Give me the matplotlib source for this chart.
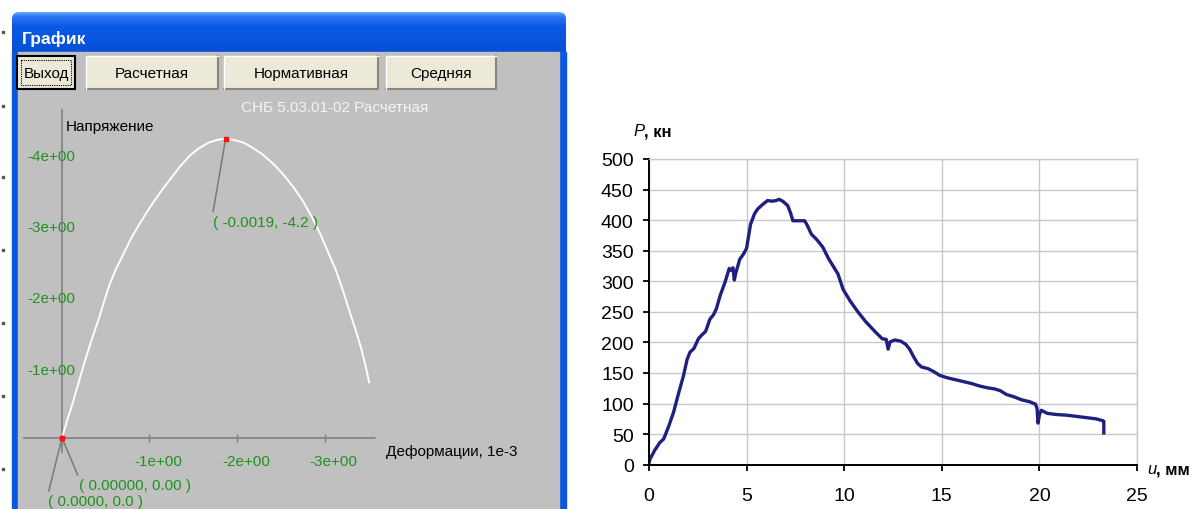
import numpy as np
import matplotlib
matplotlib.use("Agg")
import matplotlib.pyplot as plt
from matplotlib.patches import Rectangle, FancyBboxPatch
from matplotlib.colors import LinearSegmentedColormap

plt.rcParams['font.family'] = ['Liberation Sans', 'DejaVu Sans']

# ---- left (screenshot) chart: strain (1e-3) vs stress, both negative
strain = [0, -0.06, -0.125, -0.2, -0.27, -0.345, -0.42, -0.48, -0.54, -0.62,
          -0.71, -0.79, -0.875, -0.96, -1.04, -1.15, -1.25, -1.35, -1.46, -1.56,
          -1.67, -1.77, -1.87, -1.97, -2.08, -2.18, -2.29, -2.42, -2.54, -2.65,
          -2.75, -2.86, -2.96, -3.04, -3.125, -3.21, -3.29, -3.36, -3.42, -3.47,
          -3.51]
stress = [0, -0.25, -0.5, -0.82, -1.11, -1.40, -1.67, -1.91, -2.14, -2.38,
          -2.60, -2.80, -2.98, -3.15, -3.30, -3.49, -3.65, -3.81, -3.96, -4.06,
          -4.14, -4.18, -4.20, -4.18, -4.14, -4.07, -3.98, -3.84, -3.68, -3.51,
          -3.33, -3.09, -2.84, -2.61, -2.37, -2.07, -1.76, -1.50, -1.25, -1.01,
          -0.78]
strain_ticks = [-1, -2, -3]
stress_ticks = [-1, -2, -3, -4]
marked_x = [0, 0, -1.87]
marked_y = [0, 0, -4.2]
marked_labels = ['( 0.00000, 0.00 )', '( 0.0000, 0.0 )', '( -0.0019, -4.2 )']
buttons = ['Выход', 'Расчетная', 'Нормативная', 'Средняя']

# ---- right chart: load P (kN) vs displacement u (mm)
u_mm = [0.0, 0.05, 0.3, 0.55, 0.75, 1.0, 1.26, 1.5, 1.77, 1.95,
        2.1, 2.3, 2.53, 2.7, 2.9, 3.12, 3.3, 3.45, 3.64, 3.9,
        4.11, 4.2, 4.3, 4.37, 4.45, 4.65, 4.85, 5.0, 5.2, 5.4,
        5.56, 5.8, 6.07, 6.3, 6.5, 6.67, 6.85, 7.1, 7.25, 7.37,
        7.6, 7.97, 8.1, 8.32, 8.6, 8.9, 9.2, 9.45, 9.68, 9.94,
        10.3, 10.7, 11.1, 11.6, 11.95, 12.15, 12.25, 12.35, 12.6, 12.9,
        13.15, 13.35, 13.55, 13.75, 13.95, 14.3, 14.6, 14.9, 15.3, 15.7,
        16.1, 16.5, 16.9, 17.3, 17.7, 18.0, 18.3, 18.7, 19.1, 19.5,
        19.8, 19.88, 19.93, 20.0, 20.1, 20.4, 20.9, 21.4, 21.9, 22.4,
        22.9, 23.25, 23.3, 23.3]
p_kn = [3, 9, 24, 36, 42, 62, 86, 115, 146, 172,
        184, 190, 206, 212, 218, 238, 245, 255, 276, 299,
        321, 318, 322, 302, 314, 336, 345, 354, 393, 410,
        418, 425, 432, 431, 432, 434, 431, 424, 412, 399,
        399, 399, 392, 377, 368, 356, 337, 324, 312, 287,
        268, 250, 234, 217, 206, 205, 189, 201, 204, 202,
        197, 189, 177, 166, 160, 157, 152, 146, 142, 139,
        136, 133, 129, 126, 124, 121, 115, 111, 106, 103,
        99, 92, 68, 82, 89, 84, 82, 81, 79, 77,
        75, 72, 71, 52]
u_ticks = [0, 5, 10, 15, 20, 25]
p_ticks = list(range(0, 501, 50))

green = '#1f931f'

fig = plt.figure(figsize=(11.98, 5.10), dpi=100)

# ---------------- window chrome (pixel coords)
bg = fig.add_axes([0, 0, 1, 1])
bg.set_xlim(0, 1198)
bg.set_ylim(510, 0)
bg.axis('off')

cmap = LinearSegmentedColormap.from_list(
    'xp', [(0, '#6aa6ff'), (0.1, '#2f78f2'), (0.35, '#0a5ae6'), (1, '#0750d6')])
grad = np.linspace(0, 1, 60).reshape(-1, 1)
im = bg.imshow(grad, extent=(12, 566, 53, 13), aspect='auto', cmap=cmap, zorder=1)
clip = FancyBboxPatch((12, 13), 554, 60, boxstyle='round,pad=0,rounding_size=7',
                      transform=bg.transData, facecolor='none', edgecolor='none')
bg.add_patch(clip)
im.set_clip_path(clip)
bg.add_patch(Rectangle((12, 53), 6, 470, color='#0a58e2', zorder=1))
bg.add_patch(Rectangle((559, 53), 7, 470, color='#0a58e2', zorder=1))
bg.add_patch(Rectangle((18, 53), 541, 470, color='#c0c0c0', zorder=1))
bg.text(22, 39, 'График', color='white', fontsize=12.5, fontweight='bold',
        va='center', ha='left', zorder=3)

btn_x = [(17, 75), (86, 218), (224, 378), (386, 496)]
for (x0, x1), lab in zip(btn_x, buttons):
    bg.add_patch(Rectangle((x0, 57), x1 - x0, 33, facecolor='#ece9d8',
                           edgecolor='none', zorder=2))
    bg.plot([x0, x1, x1], [90, 90, 57], color='#8a8778', lw=1.5, zorder=3)
    bg.plot([x0, x0, x1], [90, 57, 57], color='white', lw=1, zorder=3)
    bg.text((x0 + x1) / 2, 74, lab, fontsize=11, ha='center', va='center', zorder=4)
x0, x1 = btn_x[0]
bg.add_patch(Rectangle((x0, 57), x1 - x0, 33, facecolor='none',
                       edgecolor='black', lw=1.5, zorder=4))
bg.add_patch(Rectangle((x0 + 4, 61), x1 - x0 - 8, 25, facecolor='none',
                       edgecolor='black', lw=0.8, ls=(0, (1, 1)), zorder=4))

bg.text(335, 108, 'СНБ 5.03.01-02 Расчетная', color='#f4f4f4', fontsize=11,
        ha='center', va='center', zorder=3)
bg.text(66, 127, 'Напряжение', fontsize=11, ha='left', va='center', zorder=3)
bg.text(386, 452, 'Деформации, 1e-3', fontsize=11, ha='left', va='center', zorder=3)
for yy in [33, 107, 178, 251, 324, 397, 470]:
    bg.plot([3], [yy], 's', color='#555555', ms=1.5, zorder=3)

# ---------------- left chart
ax = fig.add_axes([17 / 1198, 0, 543 / 1198, 415 / 510])
ax.patch.set_visible(False)
ax.set_xlim(0.514, -5.691)
ax.set_ylim(0.996, -4.825)
for s in ['top', 'right']:
    ax.spines[s].set_visible(False)
ax.spines['left'].set_position(('data', 0))
ax.spines['bottom'].set_position(('data', 0))
ax.spines['left'].set_bounds(0.2, -4.6)
ax.spines['bottom'].set_bounds(-3.577, 0.434)
for s in ['left', 'bottom']:
    ax.spines[s].set_color('#808080')
    ax.spines[s].set_linewidth(1.2)
ax.set_xticks(strain_ticks)
ax.set_yticks([])
ax.tick_params(axis='x', direction='inout', length=6, width=1, color='#808080',
               labelbottom=False)
for t in strain_ticks:
    ax.annotate(f'{t:.0e}', xy=(t, 0), xytext=(9, -23), textcoords='offset pixels',
                color=green, fontsize=11, ha='center', va='center')
for t in stress_ticks:
    ax.annotate(f'{t:.0e}', xy=(0, t), xytext=(-11, -3), textcoords='offset pixels',
                color=green, fontsize=11, ha='center', va='center')

ax.plot(strain, stress, color='white', lw=1.4, clip_on=False, zorder=3,
        solid_joinstyle='round')

offsets = [(17, -40), (-14, -56), (-13, -76)]
for x, y, lab, off in zip(marked_x, marked_y, marked_labels, offsets):
    ax.annotate(lab, xy=(x, y), xytext=off, textcoords='offset pixels',
                color=green, fontsize=11, ha='left', va='top',
                arrowprops=dict(arrowstyle='-', color='#7a7a7a', lw=1.1,
                                relpos=(0, 1), shrinkA=0, shrinkB=0), zorder=4)
ax.plot(marked_x, marked_y, 's', color='#ff1010', ms=2.3, zorder=5, clip_on=False)

# ---------------- right chart
ax2 = fig.add_axes([649 / 1198, 44.3 / 510, 488 / 1198, 305.7 / 510])
ax2.plot(u_mm, p_kn, color='#1f1f80', lw=2.4, solid_joinstyle='round')
ax2.set_xlim(0, 25)
ax2.set_ylim(0, 500)
ax2.set_xticks(u_ticks)
ax2.set_yticks(p_ticks)
ax2.grid(True, color='#c8c8c8', lw=1)
ax2.set_axisbelow(True)
for s in ['top', 'right']:
    ax2.spines[s].set_color('#c8c8c8')
    ax2.spines[s].set_linewidth(1)
for s in ['left', 'bottom']:
    ax2.spines[s].set_linewidth(1.4)
ax2.tick_params(axis='x', direction='out', length=4.5, width=1.3, labelsize=14, pad=11.5)
ax2.tick_params(axis='y', direction='out', length=4.5, width=1.3, labelsize=14, pad=6.5)

tp = ax2.annotate('P', xy=(0, 1), xycoords='axes fraction', xytext=(-16, 28),
                  textcoords='offset pixels', fontsize=12, style='italic',
                  ha='left', va='center')
ax2.annotate(', кн', xy=(1, 0.5), xycoords=tp, fontsize=12, fontweight='bold',
             ha='left', va='center')
tu = ax2.annotate('u', xy=(1, 0), xycoords='axes fraction', xytext=(10, -4),
                  textcoords='offset pixels', fontsize=12, style='italic',
                  ha='left', va='center')
ax2.annotate(', мм', xy=(1, 0.5), xycoords=tu, fontsize=12, fontweight='bold',
             ha='left', va='center')

fig.savefig('out.png', dpi=100)
